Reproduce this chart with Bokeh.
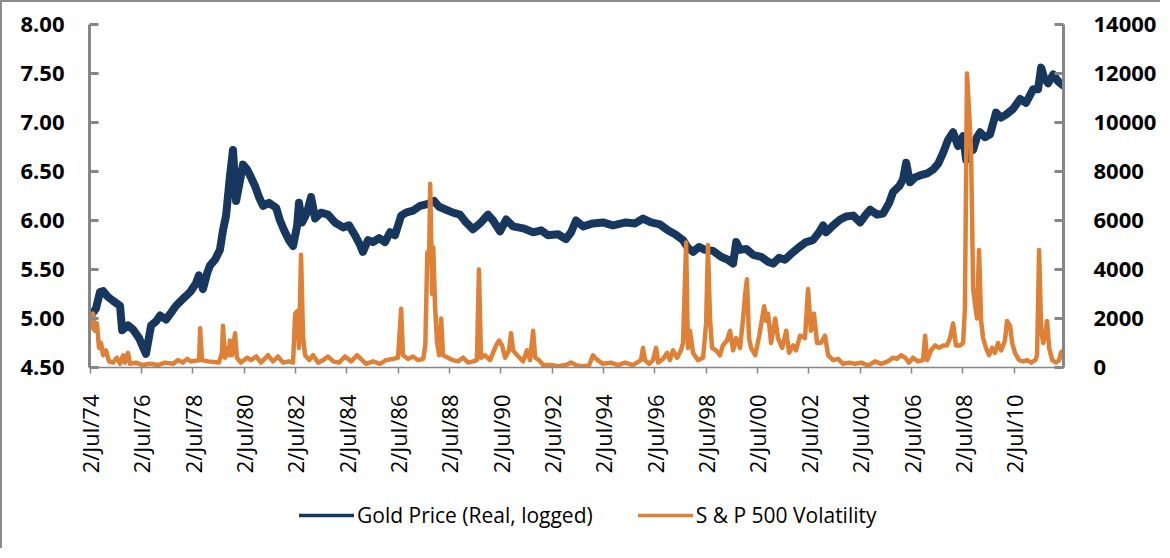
from bokeh.plotting import figure
from bokeh.layouts import column
from bokeh.models import (Range1d, LinearAxis, FixedTicker, NumeralTickFormatter,
                          Legend, LegendItem, ColumnDataSource)
from bokeh.embed import file_html
from bokeh.resources import INLINE
import math

# ---------------- data (decimal year, value) ----------------
gold_year = [1974.50, 1974.73, 1974.89, 1975.01, 1975.20, 1975.40, 1975.67, 1975.75, 1975.98,
             1976.17, 1976.41, 1976.68, 1976.88, 1977.07, 1977.23, 1977.46, 1977.66, 1977.85,
             1978.04, 1978.24, 1978.43, 1978.63, 1978.74, 1978.90, 1979.06, 1979.17, 1979.37,
             1979.56, 1979.68, 1979.80, 1979.95, 1980.07, 1980.19, 1980.30, 1980.46, 1980.62,
             1980.77, 1980.93, 1981.08, 1981.24, 1981.47, 1981.75, 1981.90, 1982.06, 1982.25,
             1982.41, 1982.57, 1982.64, 1982.76, 1982.95, 1983.11, 1983.27, 1983.50, 1983.77,
             1984.04, 1984.36, 1984.59, 1984.82, 1985.02, 1985.13, 1985.33, 1985.52, 1985.76,
             1985.99, 1986.19, 1986.38, 1986.62, 1986.81, 1987.08, 1987.36, 1987.67, 1987.90,
             1988.10, 1988.37, 1988.64, 1988.91, 1989.15, 1989.42, 1989.73, 1990.00, 1990.20,
             1990.47, 1990.71, 1990.98, 1991.37, 1991.76, 1992.07, 1992.34, 1992.73, 1993.04,
             1993.24, 1993.43, 1993.71, 1994.09, 1994.48, 1994.87, 1995.38, 1995.73, 1996.04,
             1996.35, 1996.70, 1997.01, 1997.29, 1997.60, 1997.79, 1997.99, 1998.22, 1998.46,
             1998.77, 1999.08, 1999.35, 1999.55, 1999.67, 1999.82, 2000.06, 2000.33, 2000.64,
             2000.91, 2001.11, 2001.34, 2001.57, 2001.77, 2002.08, 2002.39, 2002.66, 2002.90,
             2003.06, 2003.17, 2003.45, 2003.72, 2003.95, 2004.23, 2004.50, 2004.69, 2004.89,
             2005.16, 2005.39, 2005.63, 2005.78, 2006.02, 2006.17, 2006.29, 2006.44, 2006.64,
             2006.83, 2007.11, 2007.34, 2007.54, 2007.73, 2007.92, 2008.12, 2008.31, 2008.51,
             2008.63, 2008.74, 2008.90, 2009.05, 2009.17, 2009.36, 2009.56, 2009.79, 2009.99,
             2010.18, 2010.46, 2010.73, 2010.96, 2011.24, 2011.43, 2011.55, 2011.67, 2011.82,
             2012.02, 2012.21, 2012.40]
gold_value = [5.02, 5.10, 5.27, 5.28, 5.22, 5.18, 5.13, 4.88, 4.93,
              4.89, 4.80, 4.64, 4.93, 4.97, 5.03, 4.99, 5.06, 5.13,
              5.18, 5.23, 5.28, 5.36, 5.44, 5.30, 5.46, 5.54, 5.60,
              5.70, 5.90, 6.05, 6.45, 6.72, 6.20, 6.35, 6.57, 6.52,
              6.44, 6.35, 6.24, 6.15, 6.18, 6.13, 6.00, 5.90, 5.80,
              5.74, 5.95, 6.18, 5.98, 6.08, 6.24, 6.02, 6.08, 6.06,
              5.98, 5.93, 5.95, 5.85, 5.75, 5.68, 5.80, 5.78, 5.82,
              5.78, 5.88, 5.85, 6.05, 6.08, 6.10, 6.15, 6.17, 6.20,
              6.14, 6.11, 6.08, 6.06, 5.98, 5.91, 5.98, 6.06, 6.00,
              5.89, 6.01, 5.94, 5.92, 5.88, 5.90, 5.85, 5.86, 5.81,
              5.88, 6.00, 5.94, 5.97, 5.98, 5.95, 5.98, 5.97, 6.02,
              5.98, 5.96, 5.90, 5.86, 5.80, 5.72, 5.68, 5.73, 5.70,
              5.69, 5.63, 5.60, 5.56, 5.78, 5.70, 5.71, 5.65, 5.63,
              5.58, 5.56, 5.62, 5.60, 5.65, 5.72, 5.78, 5.80, 5.88,
              5.95, 5.88, 5.95, 6.01, 6.04, 6.05, 5.98, 6.05, 6.11,
              6.06, 6.07, 6.18, 6.29, 6.35, 6.42, 6.59, 6.39, 6.44,
              6.46, 6.48, 6.52, 6.58, 6.69, 6.82, 6.90, 6.76, 6.86,
              6.62, 6.70, 6.72, 6.85, 6.90, 6.85, 6.88, 7.10, 7.05,
              7.08, 7.14, 7.24, 7.20, 7.34, 7.34, 7.56, 7.45, 7.40,
              7.49, 7.42, 7.38]

vol_year = [1974.50, 1974.58, 1974.62, 1974.69, 1974.77, 1974.85, 1974.93, 1975.01, 1975.12,
            1975.24, 1975.40, 1975.55, 1975.67, 1975.79, 1975.86, 1975.98, 1976.06, 1976.29,
            1976.56, 1976.84, 1977.15, 1977.42, 1977.73, 1977.93, 1978.12, 1978.28, 1978.43,
            1978.75, 1978.79, 1978.86, 1979.10, 1979.52, 1979.64, 1979.68, 1979.76, 1979.84,
            1979.91, 1979.95, 1980.03, 1980.15, 1980.22, 1980.38, 1980.62, 1980.77, 1980.97,
            1981.16, 1981.43, 1981.63, 1981.82, 1982.02, 1982.25, 1982.41, 1982.49, 1982.57,
            1982.64, 1982.72, 1982.80, 1982.88, 1983.04, 1983.19, 1983.38, 1983.58, 1983.77,
            1983.97, 1984.20, 1984.43, 1984.67, 1984.90, 1985.10, 1985.25, 1985.52, 1985.80,
            1986.03, 1986.30, 1986.50, 1986.62, 1986.69, 1986.89, 1987.08, 1987.28, 1987.48,
            1987.56, 1987.64, 1987.71, 1987.75, 1987.83, 1987.87, 1987.94, 1988.02, 1988.10,
            1988.18, 1988.25, 1988.45, 1988.64, 1988.84, 1989.03, 1989.23, 1989.42, 1989.57,
            1989.65, 1989.73, 1989.89, 1990.08, 1990.32, 1990.43, 1990.55, 1990.67, 1990.82,
            1990.90, 1990.98, 1991.14, 1991.37, 1991.52, 1991.64, 1991.76, 1991.84, 1991.99,
            1992.15, 1992.46, 1992.73, 1993.04, 1993.24, 1993.47, 1993.71, 1993.94, 1994.09,
            1994.21, 1994.48, 1994.79, 1995.07, 1995.34, 1995.65, 1995.96, 1996.04, 1996.12,
            1996.28, 1996.43, 1996.55, 1996.63, 1996.82, 1996.98, 1997.09, 1997.21, 1997.37,
            1997.52, 1997.60, 1997.72, 1997.79, 1997.87, 1997.99, 1998.18, 1998.38, 1998.50,
            1998.57, 1998.65, 1998.73, 1998.88, 1999.04, 1999.15, 1999.31, 1999.43, 1999.55,
            1999.67, 1999.82, 1999.94, 2000.02, 2000.09, 2000.17, 2000.25, 2000.41, 2000.57,
            2000.68, 2000.76, 2000.84, 2000.91, 2001.03, 2001.19, 2001.30, 2001.46, 2001.62,
            2001.73, 2001.89, 2002.00, 2002.16, 2002.35, 2002.47, 2002.58, 2002.70, 2002.82,
            2002.97, 2003.13, 2003.25, 2003.45, 2003.64, 2003.83, 2004.07, 2004.30, 2004.54,
            2004.81, 2005.08, 2005.31, 2005.58, 2005.78, 2005.93, 2006.09, 2006.25, 2006.40,
            2006.56, 2006.75, 2006.95, 2007.03, 2007.11, 2007.26, 2007.42, 2007.57, 2007.73,
            2007.88, 2008.00, 2008.12, 2008.23, 2008.39, 2008.51, 2008.58, 2008.66, 2008.74,
            2008.82, 2008.90, 2008.97, 2009.05, 2009.13, 2009.21, 2009.29, 2009.40, 2009.52,
            2009.64, 2009.75, 2009.87, 2009.99, 2010.14, 2010.22, 2010.34, 2010.42, 2010.53,
            2010.69, 2010.85, 2011.00, 2011.16, 2011.32, 2011.39, 2011.47, 2011.55, 2011.63,
            2011.71, 2011.78, 2011.86, 2011.98, 2012.13, 2012.25, 2012.32, 2012.40]
vol_value = [2200, 1600, 2200, 1500, 1800, 800, 1000, 500, 700,
             250, 200, 400, 150, 500, 200, 600, 150, 200,
             100, 150, 100, 200, 150, 300, 200, 350, 250,
             300, 1600, 300, 250, 200, 600, 1700, 400, 800,
             500, 1100, 500, 1400, 400, 200, 400, 300, 450,
             200, 500, 250, 450, 200, 250, 200, 2200, 2300,
             800, 4600, 1200, 500, 300, 500, 200, 300, 450,
             250, 200, 450, 250, 500, 300, 150, 250, 150,
             300, 350, 400, 2400, 500, 350, 450, 300, 350,
             900, 4700, 4500, 7500, 3000, 4900, 2500, 1000, 500,
             2000, 500, 400, 300, 250, 400, 200, 250, 300,
             4000, 400, 500, 300, 900, 1100, 900, 400, 700,
             1400, 700, 500, 250, 700, 300, 1500, 400, 300,
             100, 100, 50, 100, 200, 80, 50, 80, 500,
             350, 150, 200, 100, 200, 100, 300, 800, 300,
             150, 300, 800, 200, 350, 600, 300, 700, 400,
             700, 1000, 5100, 800, 1500, 600, 300, 400, 1800,
             5000, 2000, 800, 700, 500, 900, 1100, 1500, 700,
             1200, 800, 2000, 3000, 3600, 1200, 800, 500, 1300,
             2000, 2500, 1900, 2200, 1000, 2000, 1200, 800, 1500,
             600, 900, 700, 1300, 1200, 3200, 1500, 2200, 1000,
             1000, 1300, 500, 300, 350, 150, 200, 150, 200,
             80, 250, 150, 250, 400, 350, 500, 400, 200,
             400, 250, 300, 1300, 300, 700, 900, 800, 900,
             900, 1200, 1800, 900, 900, 1000, 2400, 12000, 10500,
             8800, 3200, 2600, 2000, 4800, 1900, 1200, 800, 500,
             800, 600, 1000, 700, 1100, 1900, 1700, 1000, 600,
             300, 250, 300, 200, 300, 500, 4800, 1500, 1000,
             1400, 1900, 800, 300, 200, 300, 600, 700]

tick_years = [1974.5 + 2 * k for k in range(19)]
tick_labels = ["2/Jul/%02d" % ((74 + 2 * k) % 100) for k in range(19)]
left_ticks = [4.5, 5.0, 5.5, 6.0, 6.5, 7.0, 7.5, 8.0]
right_ticks = [0, 2000, 4000, 6000, 8000, 10000, 12000, 14000]
series_names = ["Gold Price (Real, logged)", "S & P 500 Volatility"]

NAVY = "#17375E"
ORANGE = "#DE8137"
GREY = "#868686"
BORDER = "2px solid #8c8c8c"

p = figure(width=1160, height=490, output_backend="svg", toolbar_location=None,
           x_range=Range1d(1974.48, 2012.42), y_range=Range1d(4.5, 8.0),
           min_border_left=87, min_border_right=99, min_border_top=22, min_border_bottom=125)
p.styles = {"border-left": BORDER, "border-top": BORDER}
p.extra_y_ranges = {"vol": Range1d(0, 14000)}
p.outline_line_color = None
p.xgrid.visible = False
p.ygrid.visible = False
p.background_fill_color = "white"
p.border_fill_color = "white"

gold_src = ColumnDataSource(dict(x=gold_year, y=gold_value))
vol_src = ColumnDataSource(dict(x=vol_year, y=vol_value))
p.line("x", "y", source=gold_src, line_color=NAVY, line_width=8, line_join="round", line_cap="round")
p.line("x", "y", source=vol_src, y_range_name="vol", line_color=ORANGE, line_width=4.5, line_join="round")

# x axis
xa = p.xaxis[0]
xa.ticker = FixedTicker(ticks=tick_years)
xa.major_label_overrides = {t: l for t, l in zip(tick_years, tick_labels)}
xa.major_label_orientation = math.pi / 2
xa.major_label_text_font = "Open Sans"
xa.major_label_text_font_size = "22px"
xa.major_label_text_color = "black"
xa.major_label_standoff = 21
xa.axis_line_color = GREY
xa.axis_line_width = 1.5
xa.major_tick_line_color = GREY
xa.major_tick_line_width = 1.5
xa.major_tick_in = 0
xa.major_tick_out = 6
xa.minor_tick_line_color = None

# left axis
ya = p.yaxis[0]
ya.ticker = FixedTicker(ticks=left_ticks)
ya.formatter = NumeralTickFormatter(format="0.00")
ya.major_label_text_font = "Open Sans"
ya.major_label_text_font_style = "bold"
ya.major_label_text_font_size = "22px"
ya.major_label_text_color = "black"
ya.major_label_standoff = 25
ya.axis_line_color = GREY
ya.axis_line_width = 3
ya.major_tick_line_color = GREY
ya.major_tick_line_width = 3
ya.major_tick_in = 9
ya.major_tick_out = 0
ya.minor_tick_line_color = None

ra = LinearAxis(y_range_name="vol", ticker=FixedTicker(ticks=right_ticks),
                formatter=NumeralTickFormatter(format="0"))
ra.major_label_text_font = "Open Sans"
ra.major_label_text_font_style = "bold"
ra.major_label_text_font_size = "22px"
ra.major_label_text_color = "black"
ra.major_label_standoff = 30
ra.axis_line_color = GREY
ra.axis_line_width = 3
ra.major_tick_line_color = GREY
ra.major_tick_line_width = 3
ra.major_tick_in = 9
ra.major_tick_out = 0
ra.minor_tick_line_color = None
p.add_layout(ra, "right")

# legend strip underneath (frames of both figures are aligned by the column)
lf = figure(width=1160, height=58, output_backend="svg", toolbar_location=None,
            x_range=Range1d(0, 1), y_range=Range1d(0, 1), x_axis_type=None, y_axis_type=None,
            min_border_left=0, min_border_right=0, min_border_top=0, min_border_bottom=0)
lf.styles = {"border-left": BORDER}
lf.outline_line_color = None
lf.xgrid.visible = False
lf.ygrid.visible = False
# proxy renderers for the legend swatches, positioned outside the visible range
lg1 = lf.line([5, 6], [5, 6], line_color=NAVY, line_width=3.5, line_cap="round")
lg2 = lf.line([5, 6], [5, 6], line_color=ORANGE, line_width=3.5, line_cap="round")
legend = Legend(items=[LegendItem(label=series_names[0], renderers=[lg1]),
                       LegendItem(label=series_names[1], renderers=[lg2])],
                location=(210, 19), orientation="horizontal",
                glyph_width=55, glyph_height=20, label_standoff=3, spacing=45,
                padding=0, margin=0, border_line_color=None, background_fill_alpha=0,
                label_text_font="Open Sans", label_text_font_size="21px",
                label_text_color="black")
lf.add_layout(legend, "center")

layout = column(p, lf, spacing=0)
open("out.html", "w").write(file_html(layout, INLINE))
